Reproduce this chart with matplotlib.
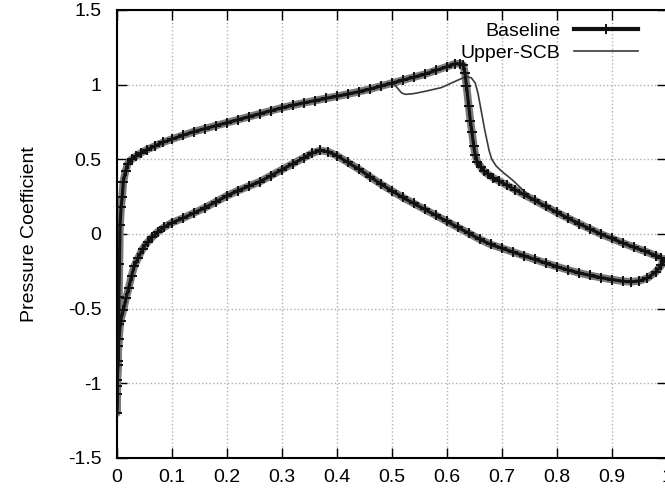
import numpy as np
import matplotlib
matplotlib.use('Agg')
import matplotlib.pyplot as plt

plt.rcParams['font.family'] = ['Liberation Sans', 'DejaVu Sans']
plt.rcParams['axes.unicode_minus'] = False

#%% data (x/c, -Cp)
# Baseline, upper surface, leading edge -> trailing edge
x_up = [0.000, 0.001, 0.001, 0.002, 0.003, 0.004, 0.004, 0.005, 0.006, 0.008,
        0.010, 0.012, 0.016, 0.020, 0.027, 0.035, 0.045, 0.055, 0.070, 0.085,
        0.100, 0.120, 0.140, 0.160, 0.180, 0.200, 0.220, 0.240, 0.260, 0.280,
        0.300, 0.320, 0.340, 0.360, 0.380, 0.400, 0.420, 0.440, 0.460, 0.480,
        0.500, 0.520, 0.540, 0.560, 0.580, 0.600, 0.615, 0.625, 0.630, 0.633,
        0.636, 0.640, 0.643, 0.646, 0.649, 0.652, 0.656, 0.662, 0.668, 0.675,
        0.685, 0.695, 0.710, 0.725, 0.740, 0.760, 0.780, 0.800, 0.820, 0.840,
        0.860, 0.880, 0.900, 0.920, 0.940, 0.960, 0.980, 0.990, 1.000]
cp_up = [-1.20, -1.07, -0.98, -0.88, -0.75, -0.60, -0.42, -0.20, 0.06, 0.18,
         0.25, 0.35, 0.42, 0.47, 0.50, 0.52, 0.545, 0.565, 0.59, 0.615,
         0.635, 0.66, 0.685, 0.705, 0.725, 0.745, 0.765, 0.785, 0.805, 0.825,
         0.845, 0.862, 0.878, 0.893, 0.908, 0.922, 0.937, 0.953, 0.97, 0.99,
         1.01, 1.03, 1.05, 1.07, 1.095, 1.12, 1.14, 1.14, 1.13, 1.08,
         0.99, 0.86, 0.76, 0.68, 0.59, 0.53, 0.48, 0.45, 0.42, 0.40,
         0.375, 0.355, 0.325, 0.295, 0.265, 0.225, 0.185, 0.145, 0.107, 0.07,
         0.035, 0.0, -0.03, -0.06, -0.088, -0.115, -0.145, -0.163, -0.18]

# Baseline, lower surface, leading edge -> trailing edge
x_lo = [0.000, 0.001, 0.002, 0.004, 0.007, 0.012, 0.017, 0.022, 0.027, 0.032,
        0.039, 0.047, 0.056, 0.065, 0.075, 0.086, 0.100, 0.120, 0.140, 0.160,
        0.180, 0.200, 0.220, 0.240, 0.260, 0.280, 0.300, 0.320, 0.340, 0.355,
        0.370, 0.385, 0.400, 0.420, 0.440, 0.460, 0.480, 0.500, 0.520, 0.540,
        0.560, 0.580, 0.600, 0.620, 0.640, 0.660, 0.680, 0.700, 0.720, 0.740,
        0.760, 0.780, 0.800, 0.820, 0.840, 0.860, 0.880, 0.900, 0.920, 0.935,
        0.950, 0.965, 0.980, 0.990, 1.000]
cp_lo = [-1.20, -1.02, -0.85, -0.70, -0.58, -0.51, -0.43, -0.36, -0.28, -0.215,
         -0.16, -0.10, -0.055, -0.02, 0.015, 0.045, 0.075, 0.105, 0.14, 0.175,
         0.215, 0.255, 0.29, 0.32, 0.35, 0.39, 0.43, 0.47, 0.51, 0.54,
         0.56, 0.55, 0.525, 0.48, 0.435, 0.385, 0.335, 0.29, 0.245, 0.205,
         0.165, 0.125, 0.085, 0.045, 0.005, -0.035, -0.07, -0.095, -0.12, -0.145,
         -0.17, -0.195, -0.218, -0.24, -0.26, -0.277, -0.292, -0.305, -0.316, -0.32,
         -0.314, -0.295, -0.255, -0.21, -0.16]

# Upper-SCB, upper surface where it differs from baseline (0.5 < x < 0.75)
x_scb = [0.505, 0.512, 0.518, 0.525, 0.540, 0.560, 0.590, 0.620, 0.636, 0.645,
         0.652, 0.657, 0.661, 0.665, 0.669, 0.673, 0.677, 0.682, 0.690, 0.700,
         0.710, 0.720, 0.730, 0.740, 0.750]
cp_scb = [1.00, 0.97, 0.945, 0.935, 0.94, 0.955, 0.98, 1.03, 1.055, 1.045,
          1.01, 0.94, 0.86, 0.78, 0.70, 0.63, 0.56, 0.50, 0.455, 0.42,
          0.39, 0.36, 0.325, 0.29, 0.255]

yticks = [-1.5, -1, -0.5, 0, 0.5, 1, 1.5]
ylabels = ['-1.5', '-1', '-0.5', '0', '0.5', '1', '1.5']
xticks = [0, 0.1, 0.2, 0.3, 0.4, 0.5, 0.6, 0.7, 0.8, 0.9, 1.0]
xlabels = ['0', '0.1', '0.2', '0.3', '0.4', '0.5', '0.6', '0.7', '0.8', '0.9', '1']

#%% build closed curves: TE -> upper -> LE -> lower -> TE
x_base = np.concatenate([x_up[::-1], x_lo[1:]])
y_base = np.concatenate([cp_up[::-1], cp_lo[1:]])

x_up_a = np.array(x_up)
cp_up_a = np.array(cp_up)
keep_lo = x_up_a <= 0.50
keep_hi = x_up_a >= 0.76
x_scb_up = np.concatenate([x_up_a[keep_lo], x_scb, x_up_a[keep_hi]])
y_scb_up = np.concatenate([cp_up_a[keep_lo], cp_scb, cp_up_a[keep_hi]])
x_scb_all = np.concatenate([x_scb_up[::-1], x_lo[1:]])
y_scb_all = np.concatenate([y_scb_up[::-1], cp_lo[1:]])

#%%
fig = plt.figure(figsize=(6.65, 4.9), dpi=100)
ax = fig.add_axes([116.7/665, 32/490, 550/665, 448/490])

# grey halo to mimic the dense '+' band of the original
ax.plot(x_base, y_base, color='#7a7a7a', lw=5.5, zorder=2,
        solid_joinstyle='round', solid_capstyle='round')
l2, = ax.plot(x_scb_all, y_scb_all, color='#3a3a3a', lw=1.2, zorder=3,
              label='Upper-SCB')
l1, = ax.plot(x_base, y_base, color='#111111', lw=2.2, marker='+',
              markersize=7, markeredgewidth=1.4, zorder=4, label='Baseline')

ax.set_xlim(0, 1)
ax.set_ylim(-1.5, 1.5)
ax.set_xticks(xticks)
ax.set_xticklabels(xlabels, fontsize=14)
ax.set_yticks(yticks)
ax.set_yticklabels(ylabels, fontsize=14)
ax.tick_params(direction='in', length=7, width=1, top=True, right=True,
               color='black')
ax.tick_params(axis='y', pad=11)
ax.tick_params(axis='x', pad=8)
for s in ax.spines.values():
    s.set_linewidth(1.5)

ax.grid(True, color='#b0b0b0', linestyle=':', linewidth=1.0)
ax.set_axisbelow(True)

fig.text(30/665, 0.522, 'Pressure Coefficient', rotation=90, fontsize=14,
         ha='center', va='center')

leg = ax.legend(handles=[l1, l2], loc='upper right',
                bbox_to_anchor=(0.948, 0.972), markerfirst=False, frameon=False,
                fontsize=14, handlelength=3.3, handletextpad=0.7,
                borderpad=0, borderaxespad=0, labelspacing=0.2, numpoints=1)
leg.get_lines()[0].set_linewidth(3)

plt.savefig('out.png', dpi=100)
